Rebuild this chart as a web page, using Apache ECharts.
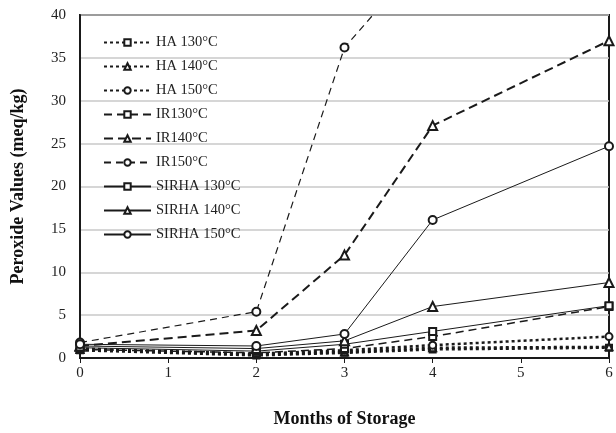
<!DOCTYPE html>
<html><head><meta charset="utf-8">
<script src="https://cdn.jsdelivr.net/npm/echarts@6/dist/echarts.min.js"></script>
<style>html,body{margin:0;padding:0;background:#fff}#c{width:616px;height:433px}</style>
</head><body><div id="c"></div>
<script>
const months = [0, 2, 3, 4, 6];
const xTicks = [0, 1, 2, 3, 4, 5, 6];
const ha130 = [0.9, 0.3, 0.6, 1.0, 1.2];
const ha140 = [1.0, 0.4, 0.7, 1.2, 1.3];
const ha150 = [1.1, 0.5, 0.9, 1.5, 2.5];
const ir130 = [1.0, 0.6, 1.1, 2.5, 6.0];
const ir140 = [1.4, 3.2, 12.0, 27.1, 37.0];
const ir150 = [1.8, 5.4, 36.2, 48.0];
const sirha130 = [1.2, 0.8, 1.6, 3.1, 6.1];
const sirha140 = [1.4, 1.1, 2.0, 6.0, 8.8];
const sirha150 = [1.6, 1.4, 2.8, 16.1, 24.7];

const pairs = v => v.map((y, i) => [months[i], y]);
const FONT = '"Liberation Serif", "DejaVu Serif", serif';
const C = '#1a1a1a';

function mk(name, data, symbol, dash, width, size) {
  return {
    name, type: 'line', data: pairs(data), symbol, symbolSize: size,
    clip: true,
    lineStyle: { color: C, width, type: dash },
    itemStyle: { color: C, borderColor: C, borderWidth: 1 },
    emphasis: { disabled: true }
  };
}

const series = [
  mk('HA 130°C', ha130, 'emptyRect', [3, 3], 2.5, 6),
  mk('HA 140°C', ha140, 'emptyTriangle', [3, 3], 2.5, 7),
  mk('HA 150°C', ha150, 'emptyCircle', [3, 3], 2.5, 7),
  mk('IR130°C', ir130, 'emptyRect', [8, 5], 1.5, 7),
  mk('IR140°C', ir140, 'emptyTriangle', [9, 5], 2, 9),
  mk('IR150°C', ir150, 'emptyCircle', [7, 5], 1.2, 8),
  mk('SIRHA 130°C', sirha130, 'emptyRect', 'solid', 1, 7),
  mk('SIRHA 140°C', sirha140, 'emptyTriangle', 'solid', 1, 9),
  mk('SIRHA 150°C', sirha150, 'emptyCircle', 'solid', 1, 8)
];

const chart = echarts.init(document.getElementById('c'), null, { renderer: 'canvas' });
chart.setOption({
  animation: false,
  backgroundColor: '#fff',
  textStyle: { fontFamily: FONT },
  grid: { left: 80, right: 7, top: 15, bottom: 69, show: true, borderColor: C, borderWidth: 2, backgroundColor: 'transparent' },
  legend: {
    orient: 'vertical', left: 98, top: 30,
    itemWidth: 47, itemHeight: 8, itemGap: 9,
    textStyle: { fontFamily: FONT, fontSize: 14.5, color: '#222' },
    data: series.map(s => s.name)
  },
  xAxis: {
    type: 'value', min: 0, max: 6, interval: 1,
    name: 'Months of Storage', nameLocation: 'middle', nameGap: 52,
    nameTextStyle: { fontFamily: FONT, fontSize: 18, fontWeight: 'bold', color: '#111' },
    axisLine: { lineStyle: { color: C, width: 2 } },
    axisTick: { show: true, inside: false, length: 5, lineStyle: { color: C, width: 1 } },
    axisLabel: { fontFamily: FONT, fontSize: 15, color: '#222', margin: 8,
      formatter: v => xTicks.includes(v) ? String(v) : '' },
    splitLine: { show: false }
  },
  yAxis: {
    type: 'value', min: 0, max: 40, interval: 5,
    name: 'Peroxide Values (meq/kg)', nameLocation: 'middle', nameGap: 53,
    nameTextStyle: { fontFamily: FONT, fontSize: 18, fontWeight: 'bold', color: '#111' },
    axisLine: { show: true, lineStyle: { color: C, width: 2 } },
    axisTick: { show: false },
    axisLabel: { fontFamily: FONT, fontSize: 15, color: '#222', margin: 14 },
    splitLine: { show: true, lineStyle: { color: '#c8c8c8', width: 1.5 } }
  },
  series
});
</script></body></html>
